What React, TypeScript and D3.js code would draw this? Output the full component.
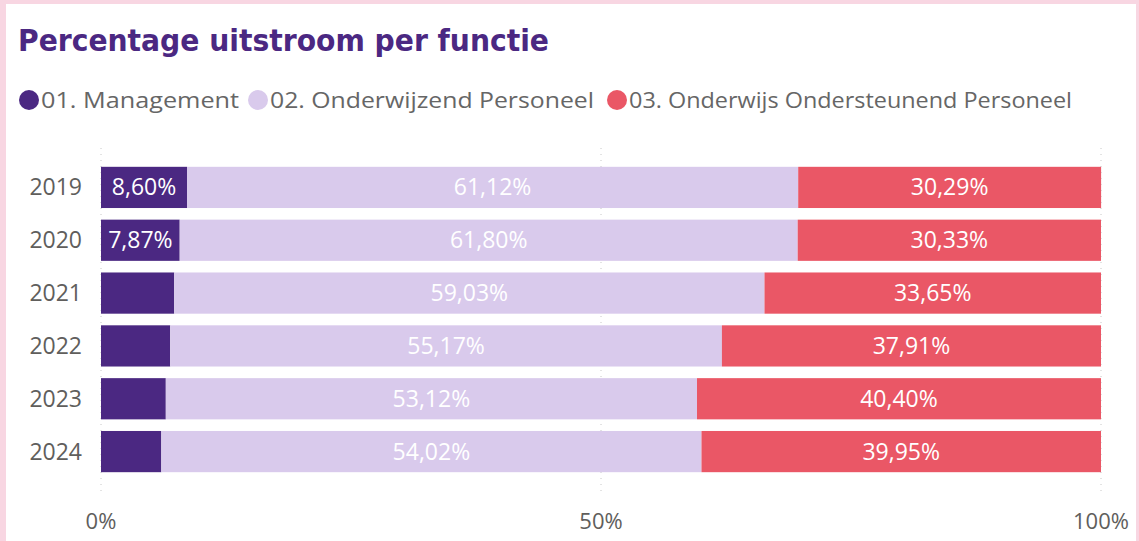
import React, { useEffect, useRef } from "react";
import * as d3 from "d3";

const years = ["2019", "2020", "2021", "2022", "2023", "2024"];
const management = [8.6, 7.87, 7.32, 6.92, 6.48, 6.03];
const onderwijzend = [61.12, 61.8, 59.03, 55.17, 53.12, 54.02];
const ondersteunend = [30.29, 30.33, 33.65, 37.91, 40.4, 39.95];
const showLabel = [
  [true, true, false, false, false, false],
  [true, true, true, true, true, true],
  [true, true, true, true, true, true],
];
const seriesNames = [
  "01. Management",
  "02. Onderwijzend Personeel",
  "03. Onderwijs Ondersteunend Personeel",
];
const colors = ["#4b2882", "#d9caec", "#ea5766"];
const xTicks = [0, 50, 100];

const W = 1139;
const H = 541;

export default function App() {
  const ref = useRef<SVGSVGElement>(null);

  useEffect(() => {
    const svg = d3.select(ref.current).attr("width", W).attr("height", H);
    svg.selectAll("*").remove();

    // frame
    svg.append("rect").attr("width", W).attr("height", H).attr("fill", "#f8d6e2");
    svg.append("rect").attr("x", 6).attr("y", 4).attr("width", W - 9).attr("height", H - 4).attr("fill", "#ffffff");

    const font = "'Open Sans', 'Noto Sans', sans-serif";

    svg
      .append("text")
      .attr("x", 18)
      .attr("y", 51)
      .attr("font-family", "'DejaVu Sans Condensed', 'DejaVu Sans', sans-serif")
      .attr("font-stretch", "condensed")
      .attr("font-weight", 700)
      .attr("font-size", 30)
      .attr("fill", "#4b2882")
      .attr("textLength", 531)
      .attr("lengthAdjust", "spacingAndGlyphs")
      .text("Percentage uitstroom per functie");

    // legend
    const legendX = [29, 258, 617];
    const legendW = [198, 324, 443];
    const lg = svg.append("g");
    seriesNames.forEach((name, i) => {
      lg.append("circle").attr("cx", legendX[i]).attr("cy", 100).attr("r", 10).attr("fill", colors[i]);
      lg.append("text")
        .attr("x", legendX[i] + 12)
        .attr("y", 108)
        .attr("font-family", font)
        .attr("font-size", 22)
        .attr("fill", "#666666")
        .attr("textLength", legendW[i])
        .attr("lengthAdjust", "spacingAndGlyphs")
        .text(name);
    });

    const x = d3.scaleLinear().domain([0, 100]).range([101, 1101]);
    const y = d3.scaleBand().domain(years).range([161, 478]).paddingInner(0.22).paddingOuter(0.11);

    // dotted grid
    svg
      .append("g")
      .selectAll("line")
      .data(xTicks)
      .join("line")
      .attr("x1", (d) => x(d))
      .attr("x2", (d) => x(d))
      .attr("y1", 148)
      .attr("y2", 492)
      .attr("stroke", "#c8c8c8")
      .attr("stroke-width", 1)
      .attr("stroke-dasharray", "1,5");

    const seriesVals = [management, onderwijzend, ondersteunend];
    const rows = years.map((yr, i) => ({
      year: yr,
      m: management[i],
      o: onderwijzend[i],
      s: ondersteunend[i],
    }));
    const stack = d3.stack<any>().keys(["m", "o", "s"])(rows);

    stack.forEach((layer, si) => {
      const g = svg.append("g");
      g.selectAll("rect")
        .data(layer)
        .join("rect")
        .attr("x", (d) => x(d[0]))
        .attr("y", (d) => y(d.data.year)!)
        .attr("width", (d) => x(d[1]) - x(d[0]))
        .attr("height", y.bandwidth())
        .attr("fill", colors[si]);
      g.selectAll("text")
        .data(layer.filter((_, i) => showLabel[si][i]))
        .join("text")
        .attr("x", (d) => (x(d[0]) + x(d[1])) / 2)
        .attr("y", (d) => y(d.data.year)! + y.bandwidth() / 2 + 8)
        .attr("text-anchor", "middle")
        .attr("font-family", font)
        .attr("font-size", 23)
        .attr("fill", "#ffffff")
        .text((d) => seriesVals[si][years.indexOf(d.data.year)].toFixed(2).replace(".", ",") + "%");
    });

    // y labels
    svg
      .append("g")
      .selectAll("text")
      .data(years)
      .join("text")
      .attr("x", 82)
      .attr("y", (d) => y(d)! + y.bandwidth() / 2 + 8)
      .attr("text-anchor", "end")
      .attr("font-family", font)
      .attr("font-size", 23)
      .attr("fill", "#605e5c")
      .text((d) => d);

    // x tick labels
    svg
      .append("g")
      .selectAll("text")
      .data(xTicks)
      .join("text")
      .attr("x", (d) => x(d))
      .attr("y", 529)
      .attr("text-anchor", "middle")
      .attr("font-family", font)
      .attr("font-size", 22)
      .attr("fill", "#605e5c")
      .text((d) => `${d}%`);
  }, []);

  return (
    <div style={{ position: "absolute", left: 0, top: 0 }}>
      <svg ref={ref} style={{ display: "block" }} />
    </div>
  );
}
